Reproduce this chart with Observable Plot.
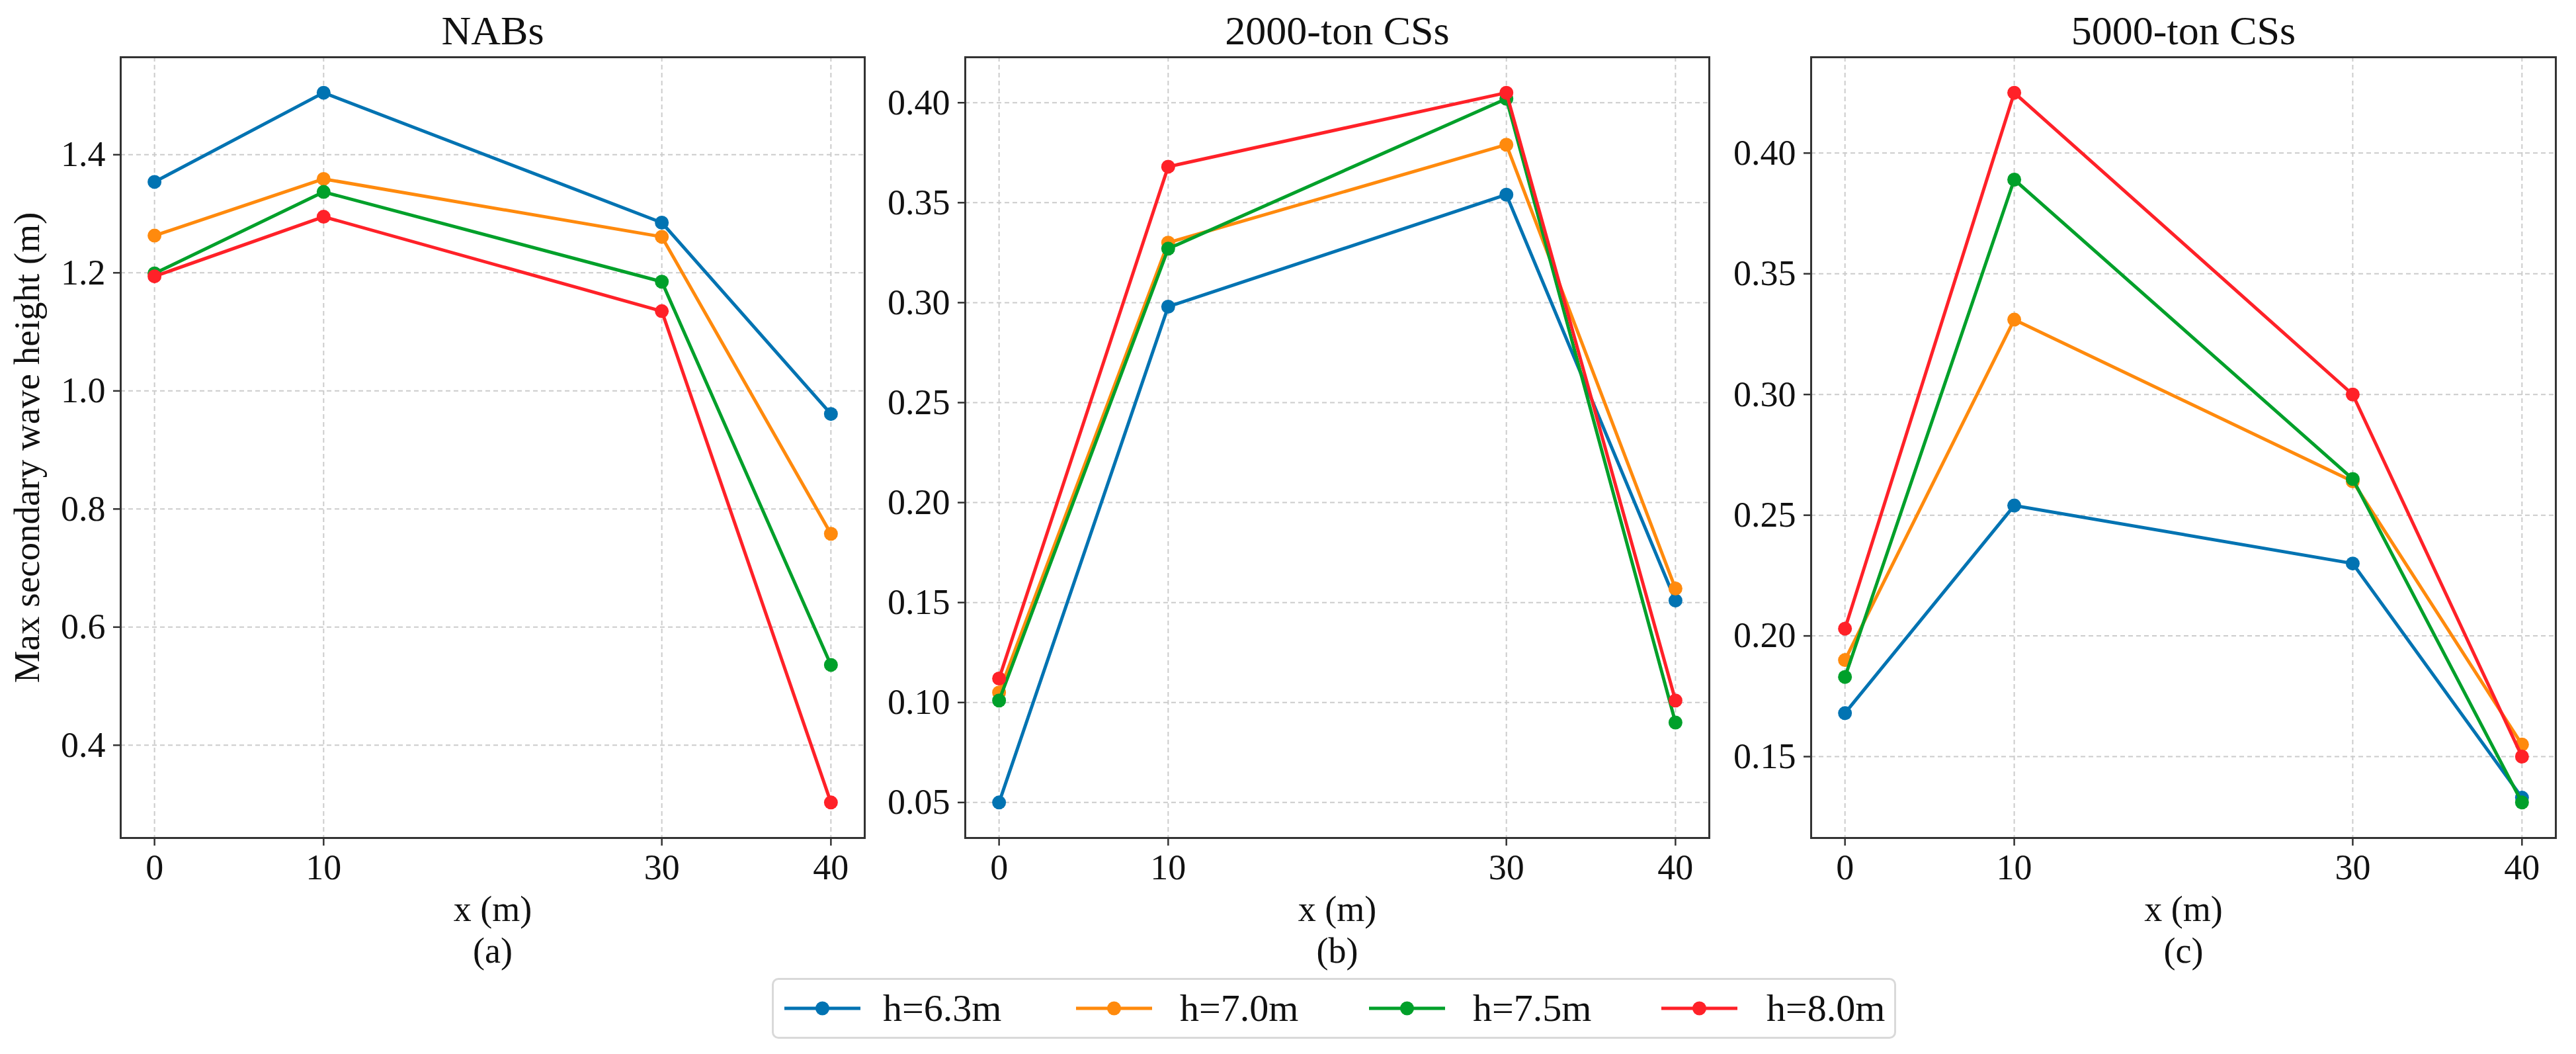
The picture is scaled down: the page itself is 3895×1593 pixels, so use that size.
<!DOCTYPE html>
<html><head><meta charset="utf-8">
<script src="https://cdn.jsdelivr.net/npm/d3@7"></script>
<script src="https://cdn.jsdelivr.net/npm/@observablehq/plot@0.6"></script>
<style>
html,body{margin:0;padding:0;background:#fff;}
#root{position:relative;width:3895px;height:1593px;overflow:hidden;font-family:"Liberation Serif","Times New Roman",serif;color:#111;}
.panel{position:absolute;top:0;}
#legend{position:absolute;left:1167px;top:1478px;width:1700px;height:92px;border:3px solid #d9d9d9;border-radius:10px;box-sizing:border-box;background:#fff;}
.sw{position:absolute;top:0;}
.lab{position:absolute;font-size:58px;line-height:86px;top:0;white-space:nowrap;}
</style></head><body><div id="root"><div id="legend"></div></div>
<script>
// ---- data ----
const xValues = [0, 10, 30, 40];
const xTicks = [0, 10, 30, 40];
const seriesNames = ["h=6.3m", "h=7.0m", "h=7.5m", "h=8.0m"];
const seriesColors = ["#0173b2", "#ff8a0d", "#00a02a", "#ff2128"];

const nabs_h63 = [1.354, 1.505, 1.285, 0.961];
const nabs_h70 = [1.263, 1.359, 1.261, 0.758];
const nabs_h75 = [1.199, 1.337, 1.185, 0.536];
const nabs_h80 = [1.194, 1.295, 1.135, 0.303];

const cs2000_h63 = [0.050, 0.298, 0.354, 0.151];
const cs2000_h70 = [0.105, 0.330, 0.379, 0.157];
const cs2000_h75 = [0.101, 0.327, 0.402, 0.090];
const cs2000_h80 = [0.112, 0.368, 0.405, 0.101];

const cs5000_h63 = [0.168, 0.254, 0.230, 0.133];
const cs5000_h70 = [0.190, 0.331, 0.264, 0.155];
const cs5000_h75 = [0.183, 0.389, 0.265, 0.131];
const cs5000_h80 = [0.203, 0.425, 0.300, 0.150];

const nabsTicks = [0.4, 0.6, 0.8, 1.0, 1.2, 1.4];
const cs2000Ticks = [0.05, 0.10, 0.15, 0.20, 0.25, 0.30, 0.35, 0.40];
const cs5000Ticks = [0.15, 0.20, 0.25, 0.30, 0.35, 0.40];

const panelTitles = ["NABs", "2000-ton CSs", "5000-ton CSs"];
const panelCaptions = ["(a)", "(b)", "(c)"];
const xLabel = "x (m)";
const yLabel = "Max secondary wave height (m)";

// ---- layout ----
const panels = [
  {values: [nabs_h63, nabs_h70, nabs_h75, nabs_h80], ticks: nabsTicks, fmt: d3.format(".1f"), left: 0, width: 1330, ml: 182, mr: 23, ylabel: true},
  {values: [cs2000_h63, cs2000_h70, cs2000_h75, cs2000_h80], ticks: cs2000Ticks, fmt: d3.format(".2f"), left: 1330, width: 1280, ml: 129, mr: 26, ylabel: false},
  {values: [cs5000_h63, cs5000_h70, cs5000_h75, cs5000_h80], ticks: cs5000Ticks, fmt: d3.format(".2f"), left: 2610, width: 1285, ml: 128, mr: 31, ylabel: false}
];

const root = document.getElementById("root");
const font = "Liberation Serif, Times New Roman, serif";

panels.forEach((p, k) => {
  const rows = [];
  p.values.forEach((vals, i) => vals.forEach((v, j) => rows.push({x: xValues[j], y: v, s: seriesNames[i]})));
  const all = rows.map(d => d.y);
  const lo = d3.min(all), hi = d3.max(all), pad = (hi - lo) * 0.05;
  const marks = [
    Plot.gridX({ticks: xTicks, stroke: "#cccccc", strokeOpacity: 1, strokeWidth: 2, strokeDasharray: "7,5"}),
    Plot.gridY({ticks: p.ticks, stroke: "#cccccc", strokeOpacity: 1, strokeWidth: 2, strokeDasharray: "7,5"}),
  ];
  seriesNames.forEach(s => {
    const sub = rows.filter(d => d.s === s);
    marks.push(Plot.line(sub, {x: "x", y: "y", stroke: "s", strokeWidth: 5}));
    marks.push(Plot.dot(sub, {x: "x", y: "y", fill: "s", r: 10.5, stroke: "none"}));
  });
  marks.push(
    Plot.frame({stroke: "#333", strokeWidth: 3}),
    Plot.axisX({ticks: xTicks, tickSize: 12, tickPadding: 12, tickFormat: d => String(d), label: null, fontSize: 54, stroke: "#333", strokeWidth: 2.5}),
    Plot.axisY({ticks: p.ticks, tickSize: 11, tickPadding: 12, tickFormat: p.fmt, label: null, fontSize: 54, stroke: "#333", strokeWidth: 2.5}),
    Plot.text([panelTitles[k]], {text: d => d, frameAnchor: "top", dy: -20, lineAnchor: "bottom", fontSize: 62}),
    Plot.text([xLabel], {text: d => d, frameAnchor: "bottom", dy: 108, lineAnchor: "middle", fontSize: 54}),
    Plot.text([panelCaptions[k]], {text: d => d, frameAnchor: "bottom", dy: 171, lineAnchor: "middle", fontSize: 54})
  );
  if (p.ylabel) marks.push(Plot.text([yLabel], {text: d => d, frameAnchor: "left", dx: -141, rotate: -90, lineAnchor: "middle", textAnchor: "middle", fontSize: 55}));
  const svg = Plot.plot({
    width: p.width, height: 1470,
    marginLeft: p.ml, marginRight: p.mr, marginTop: 86, marginBottom: 204,
    style: {fontFamily: font, fontSize: "54px", color: "#111", background: "transparent", overflow: "visible"},
    x: {domain: [-2, 42]},
    y: {domain: [lo - pad, hi + pad]},
    color: {domain: seriesNames, range: seriesColors},
    marks
  });
  const wrap = document.createElement("div");
  wrap.className = "panel";
  wrap.style.left = p.left + "px";
  wrap.appendChild(svg);
  root.appendChild(wrap);
});

// ---- legend ----
const legend = document.getElementById("legend");
const swX = [14, 455, 898, 1340];
const labX = [165, 614, 1057, 1501];
seriesNames.forEach((s, i) => {
  const ns = "http://www.w3.org/2000/svg";
  const sv = document.createElementNS(ns, "svg");
  sv.setAttribute("width", 120); sv.setAttribute("height", 86);
  sv.setAttribute("class", "sw");
  sv.style.left = swX[i] + "px";
  const ln = document.createElementNS(ns, "line");
  ln.setAttribute("x1", 2); ln.setAttribute("x2", 117); ln.setAttribute("y1", 43); ln.setAttribute("y2", 43);
  ln.setAttribute("stroke", seriesColors[i]); ln.setAttribute("stroke-width", 5);
  const c = document.createElementNS(ns, "circle");
  c.setAttribute("cx", 59.5); c.setAttribute("cy", 43); c.setAttribute("r", 10.5); c.setAttribute("fill", seriesColors[i]);
  sv.appendChild(ln); sv.appendChild(c);
  legend.appendChild(sv);
  const t = document.createElement("div");
  t.className = "lab"; t.style.left = labX[i] + "px"; t.textContent = s;
  legend.appendChild(t);
});
</script></body></html>
